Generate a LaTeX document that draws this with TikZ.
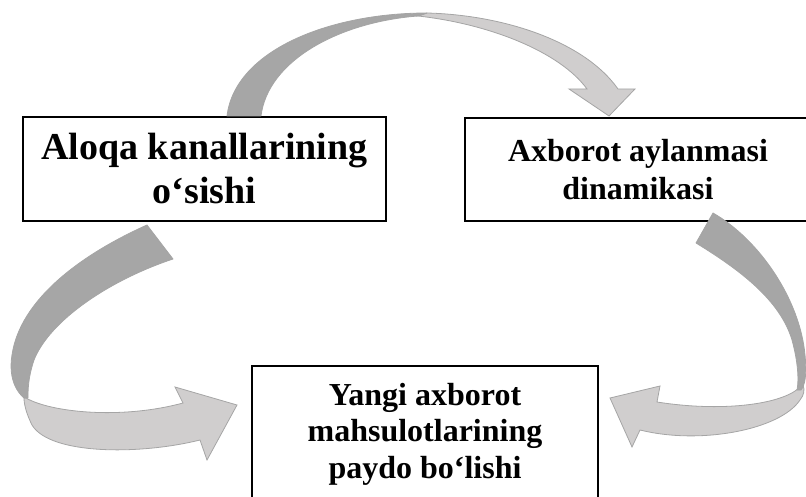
\documentclass[tikz,border=0pt]{standalone}
\usepackage{fontspec}
\setmainfont{Liberation Serif}
\definecolor{ribdark}{HTML}{A6A6A6}
\definecolor{riblight}{HTML}{D0CECE}
\definecolor{ribline}{HTML}{A5A5A5}
\tikzset{
  textbox/.style={draw=black, line width=1.5pt, fill=white, align=center, inner sep=0pt},
  bigtext/.style={font=\fontsize{38}{44}\selectfont\bfseries},
  midtext/.style={font=\fontsize{32}{38}\selectfont\bfseries},
  lowtext/.style={font=\fontsize{32}{36.5}\selectfont\bfseries},
  darkpart/.style={fill=ribdark, draw=ribline, line width=0.8pt, line join=round},
  lightpart/.style={fill=riblight, draw=ribline, line width=0.8pt, line join=miter}
}
\begin{document}
\begin{tikzpicture}[x=1pt,y=-1pt]
\useasboundingbox (0,0) rectangle (806,497);
% boxes
\node[textbox, bigtext, minimum width=363pt, minimum height=104pt] (b1) at (204.5,169) {Aloqa kanallarining\\o‘sishi};
\node[textbox, midtext, minimum width=346pt, minimum height=103pt] (b2) at (638,169.5) {Axborot aylanmasi\\dinamikasi};
\node[textbox, lowtext, minimum width=346pt, minimum height=136pt] (b3) at (425,434) {Yangi axborot\\mahsulotlarining\\paydo bo‘lishi};
% top arrow
\path[lightpart] (427,13) .. controls (505,15) and (585,42) .. (618,89) -- (635,89) -- (609,116) -- (569,89) -- (587,89) .. controls (560,52) and (490,24) .. (418,16) -- cycle;
\path[darkpart] (227,116) .. controls (235,50) and (330,13) .. (427,13) -- (418,16) .. controls (340,22) and (268,60) .. (261,116) -- cycle;
% left arrow
\path[lightpart] (26,398) .. controls (50,412) and (120,420) .. (183,403) -- (175,387) -- (237,405) -- (207,460) -- (200,440) .. controls (140,455) and (50,455) .. (32,425) .. controls (27,415) and (24,405) .. (24,398) -- cycle;
\path[darkpart] (147,225) .. controls (80,255) and (20,300) .. (12,355) .. controls (8,380) and (18,393) .. (24,398) -- (28,398) .. controls (28,390) and (28,378) .. (34,360) .. controls (50,320) and (110,280) .. (173,259) -- cycle;
% right arrow
\path[lightpart] (799,388) .. controls (780,405) and (720,412) .. (657,402) -- (660,386) -- (610,398) -- (632,447) -- (640,430) .. controls (700,445) and (780,430) .. (800,400) .. controls (804,395) and (805,390) .. (803,385) -- cycle;
\path[darkpart] (713,213) .. controls (760,240) and (800,300) .. (805,355) .. controls (807,375) and (805,385) .. (801,390) -- (797,390) .. controls (799,380) and (798,362) .. (792,340) .. controls (780,300) and (740,270) .. (696,243) -- cycle;
\end{tikzpicture}
\end{document}
